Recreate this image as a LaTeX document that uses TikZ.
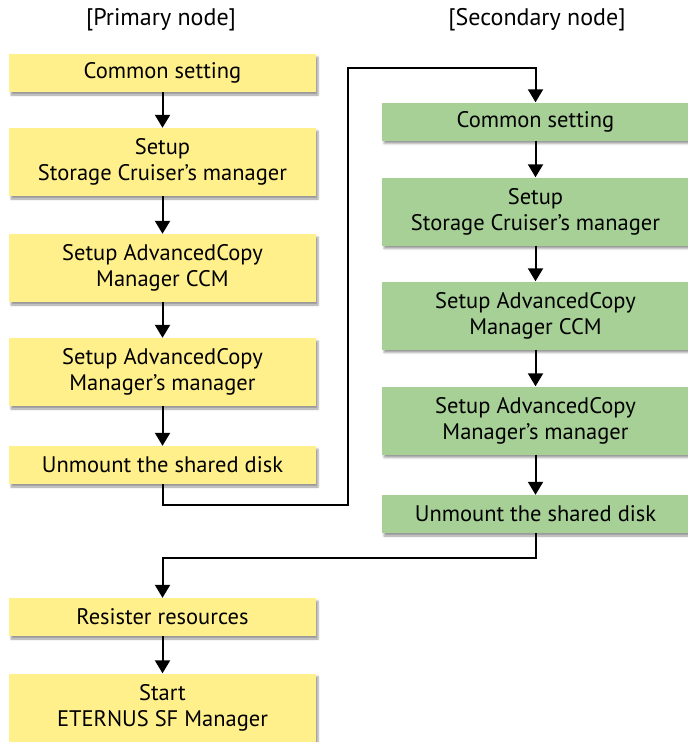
\documentclass[tikz,border=0pt]{standalone}
\usepackage{fontspec}
\setmainfont{PT Sans}
\usetikzlibrary{shadows.blur, arrows.meta}
\definecolor{ylw}{RGB}{255,240,140}
\definecolor{grn}{RGB}{166,208,150}
\begin{document}
\begin{tikzpicture}[x=1pt,y=-1pt,
  box/.style={rectangle, minimum width=307pt, inner sep=0pt, align=center,
    font=\fontsize{22.5}{26}\selectfont,
    blur shadow={shadow xshift=2pt,shadow yshift=-3pt,shadow blur radius=2pt,shadow opacity=40}},
  one/.style={box, minimum height=38pt},
  two/.style={box, minimum height=68pt},
  yb/.style={fill=ylw},
  gb/.style={fill=grn},
  head/.style={font=\fontsize{24}{28}\selectfont},
  arr/.style={line width=2pt, -{Triangle[width=15pt,length=13pt]}}]
\useasboundingbox (0,0) rectangle (688,742);
\node[head] (hp) at (161,20) {[Primary node]};
\node[head] (hs) at (537,20) {[Secondary node]};
% primary
\node[one,yb] (L1) at (162.5,73) {Common setting};
\node[two,yb] (L2) at (162.5,162) {Setup\\Storage Cruiser’s manager};
\node[two,yb] (L3) at (162.5,268) {Setup AdvancedCopy\\Manager CCM};
\node[two,yb] (L4) at (162.5,372) {Setup AdvancedCopy\\Manager’s manager};
\node[one,yb] (L5) at (162.5,465) {Unmount the shared disk};
% secondary
\node[one,gb] (R1) at (535.5,121.5) {Common setting};
\node[two,gb] (R2) at (535.5,211.5) {Setup\\Storage Cruiser’s manager};
\node[two,gb] (R3) at (535.5,315.5) {Setup AdvancedCopy\\Manager CCM};
\node[two,gb] (R4) at (535.5,420.5) {Setup AdvancedCopy\\Manager’s manager};
\node[one,gb] (R5) at (535.5,514) {Unmount the shared disk};
% bottom
\node[one,yb] (B1) at (162.5,617) {Resister resources};
\node[two,yb] (B2) at (162.5,707.5) {Start\\ETERNUS SF Manager};
% connectors
\draw[arr] (L1) -- (L2);
\draw[arr] (L2) -- (L3);
\draw[arr] (L3) -- (L4);
\draw[arr] (L4) -- (L5);
\draw[arr] (R1) -- (R2);
\draw[arr] (R2) -- (R3);
\draw[arr] (R3) -- (R4);
\draw[arr] (R4) -- (R5);
\draw[arr] (B1) -- (B2);
\coordinate (j1) at (348,505);
\coordinate (j2) at (348,68);
\coordinate (j3) at (162.5,558);
\draw[arr] (L5.south) |- (j1) -- (j2) -| (R1.north);
\draw[arr] (R5.south) |- (j3) -- (B1.north);
\end{tikzpicture}
\end{document}
